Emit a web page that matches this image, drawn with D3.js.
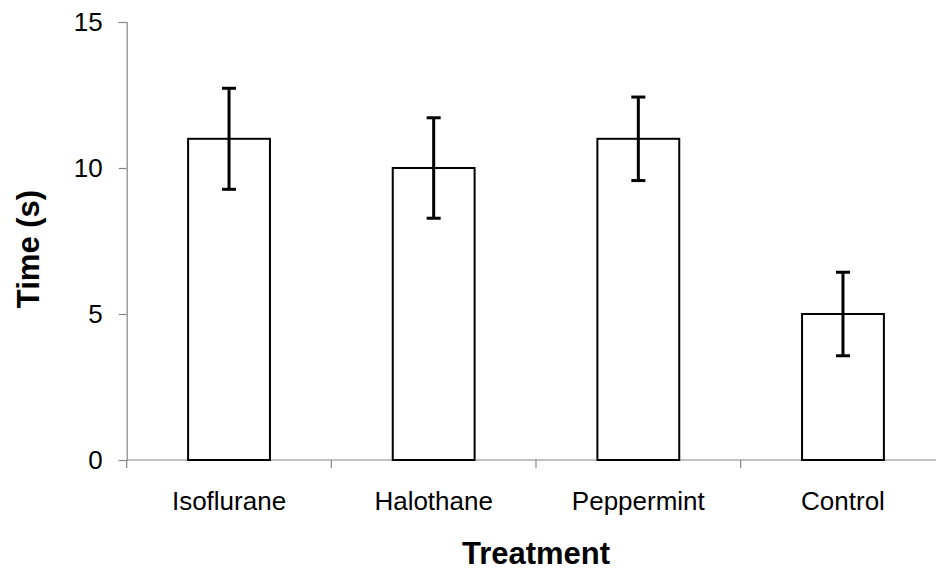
<!DOCTYPE html>
<html>
<head>
<meta charset="utf-8">
<script src="https://cdn.jsdelivr.net/npm/d3@7"></script>
<style>
  html, body { margin: 0; padding: 0; background: #fff; }
  svg { display: block; }
  text { font-family: "Liberation Sans", Arial, sans-serif; fill: #000; }
</style>
</head>
<body>
<svg id="chart" width="936" height="572"></svg>
<script>
const categories = ["Isoflurane", "Halothane", "Peppermint", "Control"];
const means = [11, 10, 11, 5];
const errors = [1.73, 1.72, 1.43, 1.43];
const yTicks = [0, 5, 10, 15];
const xTitle = "Treatment";
const yTitle = "Time (s)";

(function () {
const svg = d3.select("#chart");
const mLeft = 126.7, mRight = 945.3, mTop = 22, mBottom = 460;

const x = d3.scaleBand().domain(categories).range([mLeft, mRight])
  .paddingInner(0.6).paddingOuter(0.3);
const y = d3.scaleLinear().domain([0, 15]).range([mBottom, mTop]);

const axisColor = "#868686";

// y axis
const yAxis = d3.axisLeft(y).tickValues(yTicks).tickSize(8).tickPadding(16).tickFormat(d3.format("d"));
const gy = svg.append("g").attr("transform", `translate(${mLeft},0)`).call(yAxis);
gy.select(".domain").attr("stroke", axisColor).attr("stroke-width", 1.2);
gy.selectAll(".tick line").attr("stroke", axisColor).attr("stroke-width", 1.2);
gy.selectAll(".tick text").attr("font-size", 26).attr("font-family", '"Liberation Sans", Arial, sans-serif').attr("fill", "#000");

// x axis line
svg.append("line").attr("x1", mLeft).attr("x2", mRight).attr("y1", y(0)).attr("y2", y(0))
  .attr("stroke", axisColor).attr("stroke-width", 1.2);
// boundary ticks
const step = x.step();
const bounds = d3.range(categories.length + 1).map(i => mLeft + i * step);
svg.selectAll(".xtick").data(bounds).enter().append("line")
  .attr("x1", d => d).attr("x2", d => d).attr("y1", y(0)).attr("y2", y(0) + 8)
  .attr("stroke", axisColor).attr("stroke-width", 1.2);

// bars
const data = categories.map((c, i) => ({c, m: means[i], e: errors[i]}));
svg.selectAll(".bar").data(data).enter().append("rect")
  .attr("x", d => x(d.c)).attr("width", x.bandwidth())
  .attr("y", d => y(d.m)).attr("height", d => y(0) - y(d.m))
  .attr("fill", "#fff").attr("stroke", "#000").attr("stroke-width", 2);

// error bars
const cap = 7;
const cx = d => x(d.c) + x.bandwidth() / 2;
const eg = svg.selectAll(".err").data(data).enter().append("g");
eg.append("line").attr("x1", cx).attr("x2", cx)
  .attr("y1", d => y(d.m + d.e)).attr("y2", d => y(d.m - d.e))
  .attr("stroke", "#000").attr("stroke-width", 3);
eg.append("line").attr("x1", d => cx(d) - cap).attr("x2", d => cx(d) + cap)
  .attr("y1", d => y(d.m + d.e)).attr("y2", d => y(d.m + d.e))
  .attr("stroke", "#000").attr("stroke-width", 3);
eg.append("line").attr("x1", d => cx(d) - cap).attr("x2", d => cx(d) + cap)
  .attr("y1", d => y(d.m - d.e)).attr("y2", d => y(d.m - d.e))
  .attr("stroke", "#000").attr("stroke-width", 3);

// category labels
svg.selectAll(".clabel").data(categories).enter().append("text")
  .attr("x", d => x(d) + x.bandwidth() / 2).attr("y", 509.5)
  .attr("text-anchor", "middle").attr("font-size", 26).text(d => d);

// axis titles
svg.append("text").attr("x", (x(categories[1]) + x(categories[2]) + x.bandwidth()) / 2)
  .attr("y", 564).attr("text-anchor", "middle").attr("font-size", 31).attr("font-weight", "bold").text(xTitle);
svg.append("text").attr("transform", "translate(39,249) rotate(-90)")
  .attr("text-anchor", "middle").attr("font-size", 31).attr("font-weight", "bold").text(yTitle);
})();
</script>
</body>
</html>
